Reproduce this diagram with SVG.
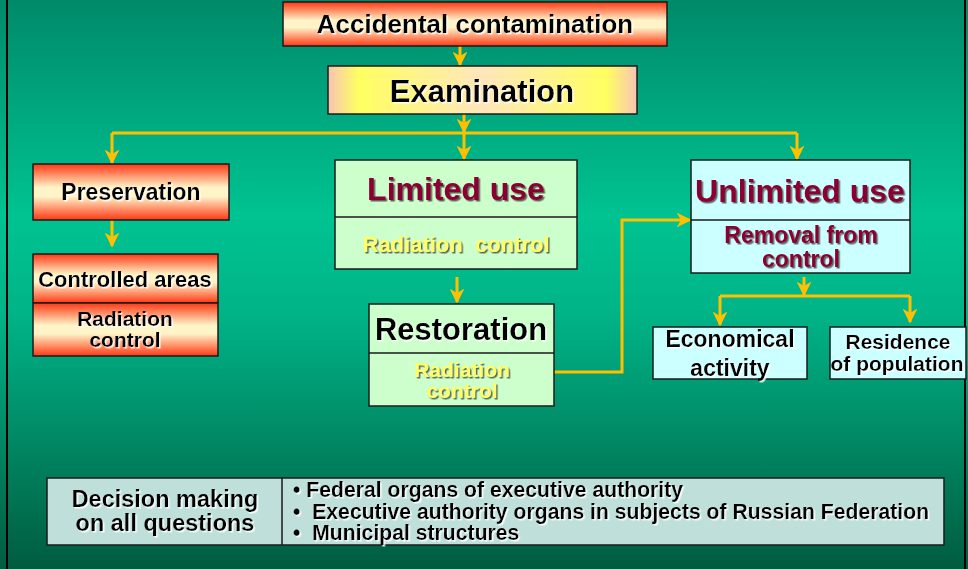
<svg xmlns="http://www.w3.org/2000/svg" width="968" height="569" viewBox="0 0 968 569">
<defs>
<linearGradient id="bg" x1="0" y1="0" x2="0" y2="1">
<stop offset="0" stop-color="#008a6a"/>
<stop offset="0.38" stop-color="#00c392"/>
<stop offset="0.55" stop-color="#00b488"/>
<stop offset="1" stop-color="#005c3f"/>
</linearGradient>
<linearGradient id="red" x1="0" y1="0" x2="0" y2="1">
<stop offset="0" stop-color="#ff3814"/>
<stop offset="0.42" stop-color="#fff4c8"/>
<stop offset="0.58" stop-color="#fff4c8"/>
<stop offset="1" stop-color="#ff3814"/>
</linearGradient>
<linearGradient id="yel" x1="0" y1="0" x2="1" y2="0">
<stop offset="0" stop-color="#f8c4b4"/>
<stop offset="0.1" stop-color="#ffff60"/>
<stop offset="0.5" stop-color="#ffe6bc"/>
<stop offset="0.9" stop-color="#ffff60"/>
<stop offset="1" stop-color="#f8c4b4"/>
</linearGradient>
<filter id="sw" x="-5%" y="-20%" width="110%" height="140%">
<feDropShadow dx="1.5" dy="1.5" stdDeviation="0" flood-color="#ffffff" flood-opacity="0.9"/>
</filter>
<filter id="sd" x="-5%" y="-20%" width="110%" height="140%">
<feDropShadow dx="1.5" dy="1.5" stdDeviation="0" flood-color="#404040" flood-opacity="0.8"/>
</filter>
<marker id="ah" viewBox="0 0 10 10" refX="9" refY="5" markerWidth="5" markerHeight="5" orient="auto" markerUnits="strokeWidth">
<path d="M0,0 L10,5 L0,10 L3,5 z" fill="#ffc000"/>
</marker>
</defs>
<style>
text{font-family:"Liberation Sans",Arial,sans-serif;font-weight:bold;text-anchor:middle}
.box{stroke:#1a1a1a;stroke-width:1.5}
.red{fill:url(#red)}
.grn{fill:#ccffcc}
.cyn{fill:#ccffff}
.blk{fill:#000}
.dr{fill:#8b0033}
.yt{fill:#ffff66}
.con{fill:none;stroke:#ffc000;stroke-width:3}
.arr{marker-end:url(#ah)}
.lft{text-anchor:start}
</style>
<rect x="0" y="0" width="968" height="569" fill="url(#bg)"/>
<line x1="7" y1="0" x2="7" y2="569" stroke="#000" stroke-width="2"/>
<line x1="965" y1="0" x2="965" y2="569" stroke="#000" stroke-width="2"/>

<g id="connectors">
<path class="con arr" d="M460,46 V65"/>
<path class="con arr" d="M464,114 V132"/>
<path class="con" d="M112,133 H797"/>
<path class="con arr" d="M112,133 V163"/>
<path class="con arr" d="M464,133 V159"/>
<path class="con arr" d="M797,133 V159"/>
<path class="con arr" d="M112,220 V246"/>
<path class="con arr" d="M457,277 V302"/>
<path class="con arr" d="M554,372 H622 V220 H690"/>
<path class="con arr" d="M804,277 V295"/>
<path class="con" d="M720,296 H910"/>
<path class="con arr" d="M720,296 V325"/>
<path class="con arr" d="M910,296 V322"/>
</g>

<g id="accidental">
<rect class="box red" x="283" y="2" width="384" height="44"/>
<text class="blk" x="475" y="33" font-size="26" filter="url(#sw)">Accidental contamination</text>
</g>
<g id="examination">
<rect class="box" fill="url(#yel)" x="328" y="66" width="309" height="48"/>
<text class="blk" x="482" y="102" font-size="31" filter="url(#sw)">Examination</text>
</g>
<g id="preservation">
<rect class="box red" x="33" y="164" width="196" height="56"/>
<text class="blk" x="131" y="200" font-size="23" filter="url(#sw)">Preservation</text>
</g>
<g id="controlled">
<rect class="box red" x="33" y="254" width="185" height="49"/>
<rect class="box red" x="33" y="303" width="185" height="53"/>
<text class="blk" x="125" y="287" font-size="22" filter="url(#sw)">Controlled areas</text>
<text class="blk" x="125" y="326" font-size="21" filter="url(#sw)">Radiation</text>
<text class="blk" x="125" y="347" font-size="21" filter="url(#sw)">control</text>
</g>
<g id="limited">
<rect class="box grn" x="335" y="160" width="242" height="109"/>
<line class="box" x1="335" y1="217" x2="577" y2="217"/>
<text class="dr" x="456" y="200" font-size="32" filter="url(#sd)">Limited use</text>
<text class="yt" x="456" y="252" font-size="22" filter="url(#sd)" xml:space="preserve">Radiation  control</text>
</g>
<g id="restoration">
<rect class="box grn" x="369" y="304" width="185" height="102"/>
<line class="box" x1="369" y1="353" x2="554" y2="353"/>
<text class="blk" x="461" y="340" font-size="31" filter="url(#sw)">Restoration</text>
<text class="yt" x="462" y="377" font-size="21" filter="url(#sd)">Radiation</text>
<text class="yt" x="462" y="398" font-size="21" filter="url(#sd)">control</text>
</g>
<g id="unlimited">
<rect class="box cyn" x="691" y="160" width="219" height="113"/>
<line class="box" x1="691" y1="220" x2="910" y2="220"/>
<text class="dr" x="800" y="202" font-size="32" filter="url(#sd)">Unlimited use</text>
<text class="dr" x="801" y="243" font-size="23" filter="url(#sd)">Removal from</text>
<text class="dr" x="801" y="267" font-size="23" filter="url(#sd)">control</text>
</g>
<g id="economical">
<rect class="box cyn" x="653" y="327" width="154" height="52"/>
<text class="blk" x="730" y="347" font-size="23" filter="url(#sw)">Economical</text>
<text class="blk" x="730" y="376" font-size="23" filter="url(#sw)">activity</text>
</g>
<g id="residence">
<rect class="box cyn" x="830" y="327" width="136" height="52"/>
<text class="blk" x="898" y="349" font-size="21" filter="url(#sw)">Residence</text>
<text class="blk" x="897" y="371" font-size="21" filter="url(#sw)">of population</text>
</g>
<g id="decision">
<rect class="box" fill="#bfe0da" x="47" y="478" width="897" height="67"/>
<line class="box" x1="282" y1="478" x2="282" y2="545"/>
<text class="blk" x="165" y="507" font-size="23.5" filter="url(#sw)">Decision making</text>
<text class="blk" x="165" y="531" font-size="23.5" filter="url(#sw)">on all questions</text>
<text class="blk lft" x="293" y="497" font-size="21.2" filter="url(#sw)">• Federal organs of executive authority</text>
<text class="blk lft" x="293" y="519" font-size="21.2" filter="url(#sw)" xml:space="preserve">•  Executive authority organs in subjects of Russian Federation</text>
<text class="blk lft" x="293" y="540" font-size="21.2" filter="url(#sw)" xml:space="preserve">•  Municipal structures</text>
</g>
</svg>
